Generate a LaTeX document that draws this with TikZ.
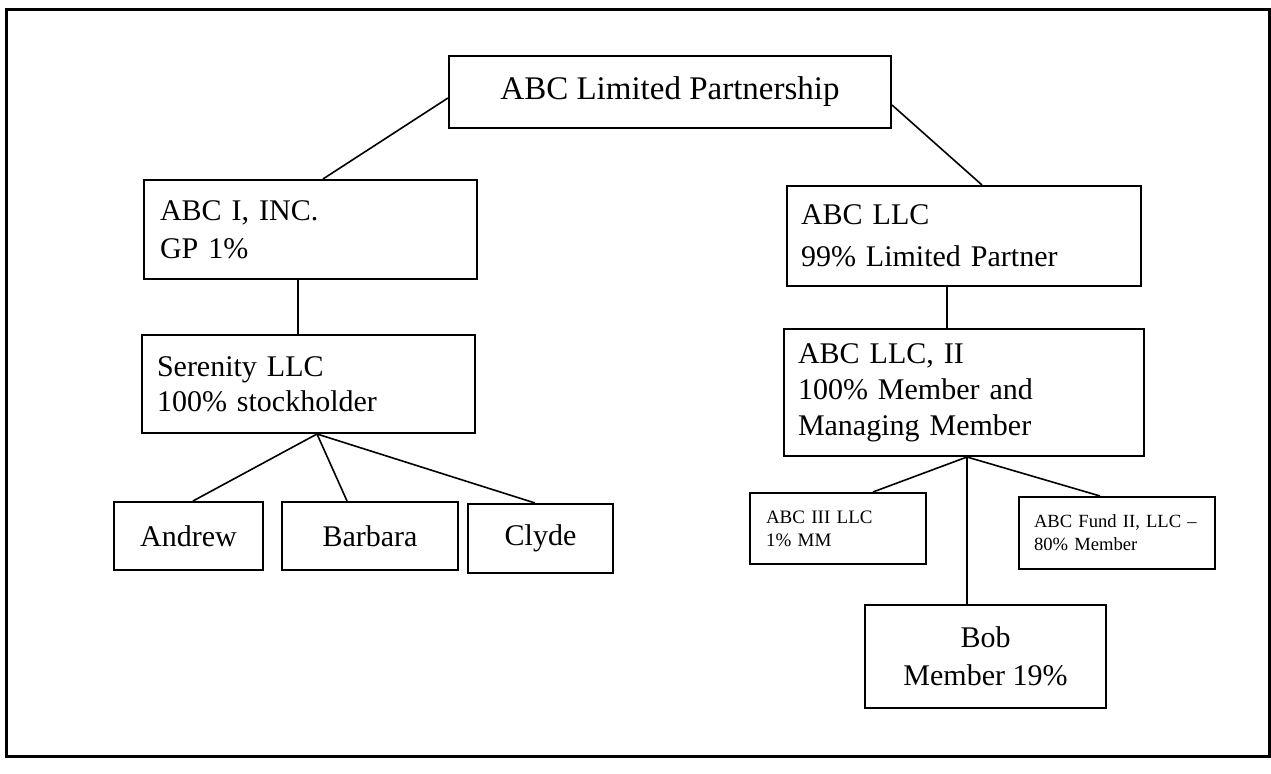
\documentclass[tikz,border=0pt]{standalone}
\usepackage{fontspec}
\setmainfont{Liberation Serif}
\usetikzlibrary{calc}
\begin{document}
\begin{tikzpicture}[x=0.5pt,y=-0.5pt,
  box/.style={draw,line width=1pt,inner sep=0pt,anchor=north west},
  leftbox/.style={box,align=left,inner ysep=0pt},
  midbox/.style={box,align=center},
  link/.style={line width=0.8pt}]
\useasboundingbox (0,0) rectangle (1271,774);
% outer frame
\node[draw,line width=1.5pt,inner sep=0pt,anchor=north west,
      minimum width=631.5pt,minimum height=373.5pt] (frame) at (5,8) {};
% top
\node[midbox,minimum width=221pt,minimum height=36pt,
      font={\fontsize{16.5}{19}\selectfont}] (lp) at (448,55) {ABC Limited Partnership};
% left branch
\node[leftbox,minimum width=166.5pt,minimum height=49.5pt,inner xsep=8pt,text width=150.5pt,
      font={\fontsize{15}{19}\selectfont}] (abci) at (143,179) {ABC I, INC.\\GP 1\%};
\node[leftbox,minimum width=166.5pt,minimum height=49pt,inner xsep=7.5pt,text width=151.5pt,
      font={\fontsize{15}{17.5}\selectfont}] (ser) at (141,334) {Serenity LLC\\100\% stockholder};
\node[midbox,minimum width=74.5pt,minimum height=34pt,
      font={\fontsize{15}{18}\selectfont}] (andrew) at (113,501) {Andrew};
\node[midbox,minimum width=88pt,minimum height=34pt,
      font={\fontsize{15}{18}\selectfont}] (barbara) at (281,501) {Barbara};
\node[midbox,minimum width=72.5pt,minimum height=34.5pt,
      font={\fontsize{15}{18}\selectfont}] (clyde) at (467,503) {Clyde};
% right branch
\node[leftbox,minimum width=177pt,minimum height=50pt,inner xsep=7pt,text width=163pt,
      font={\fontsize{15}{21}\selectfont}] (abcllc) at (786,185) {ABC LLC\\99\% Limited Partner};
\node[leftbox,minimum width=180pt,minimum height=63.5pt,inner xsep=7pt,text width=166pt,
      font={\fontsize{15}{18}\selectfont}] (llc2) at (783,328) {ABC LLC, II\\100\% Member and\\Managing Member};
\node[leftbox,minimum width=88pt,minimum height=35.5pt,inner xsep=8pt,text width=72pt,
      font={\fontsize{9.5}{11.5}\selectfont}] (abc3) at (749,492) {ABC III LLC\\1\% MM};
\node[leftbox,minimum width=98pt,minimum height=36pt,inner xsep=7.5pt,text width=83pt,
      font={\fontsize{9.3}{11.5}\selectfont}] (fund) at (1018,496) {\mbox{ABC Fund II, LLC --}\\80\% Member};
\node[midbox,minimum width=120.5pt,minimum height=51.5pt,
      font={\fontsize{15}{19}\selectfont}] (bob) at (864,604) {Bob\\Member 19\%};
% connectors
\draw[link] ($(lp.north west)+(0,43)$) -- ($(abci.north west)+(180,0)$);
\draw[link] ($(lp.north east)+(0,50)$) -- ($(abcllc.north west)+(196,0)$);
\draw[link] ($(abci.south west)+(155,0)$) -- ($(ser.north west)+(157,0)$);
\draw[link] ($(ser.south west)+(176,0)$) -- ($(andrew.north west)+(80,0)$);
\draw[link] ($(ser.south west)+(176,0)$) -- ($(barbara.north west)+(66,0)$);
\draw[link] ($(ser.south west)+(176,0)$) -- ($(clyde.north west)+(68,0)$);
\draw[link] ($(abcllc.south west)+(161,0)$) -- ($(llc2.north west)+(164,0)$);
\draw[link] ($(llc2.south west)+(184,0)$) -- ($(abc3.north west)+(124,0)$);
\draw[link] ($(llc2.south west)+(184,0)$) -- ($(fund.north west)+(82,0)$);
\draw[link] ($(llc2.south west)+(184,0)$) -- ($(bob.north west)+(103,0)$);
\end{tikzpicture}
\end{document}
